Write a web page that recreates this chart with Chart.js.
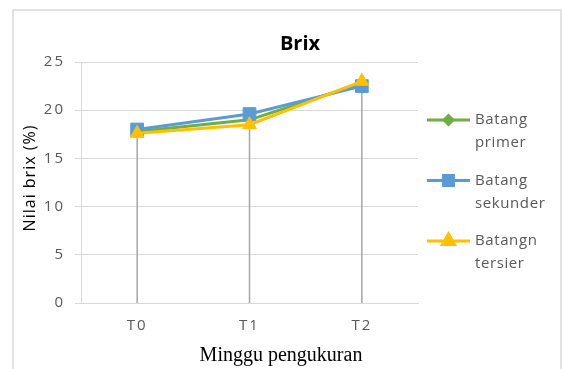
<!DOCTYPE html>
<html>
<head>
<meta charset="utf-8">
<title>Brix</title>
<script src="https://cdn.jsdelivr.net/npm/chart.js@4.4.0/dist/chart.umd.min.js"></script>
<style>
  html, body { margin: 0; padding: 0; background: #ffffff; }
  #wrap { width: 562px; height: 369px; }
</style>
</head>
<body>
<div id="wrap"><canvas id="brix" width="562" height="369"></canvas></div>
<script>
// Measurement weeks and Brix readings (%) per stem type
const categories = ['T0', 'T1', 'T2'];
const primer = [17.8, 19.0, 22.8];
const sekunder = [18.0, 19.6, 22.5];
const tersier = [17.6, 18.5, 23.0];
const seriesLabels = [['Batang', 'primer'], ['Batang', 'sekunder'], ['Batangn', 'tersier']];
const yTicks = [0, 5, 10, 15, 20, 25];

const GREEN = '#70AD47', BLUE = '#5B9BD5', GOLD = '#FFC000';
const GRID = '#d9d9d9', TEXT = '#595959';
const SANS = '"Open Sans", "Liberation Sans", sans-serif';

// Outer frame of the chart object; also sets the wide tick-label spacing
const framePlugin = {
  id: 'frame',
  beforeDraw(chart) {
    const ctx = chart.ctx;
    ctx.save();
    ctx.fillStyle = '#ffffff';
    ctx.fillRect(0, 0, chart.width, chart.height);
    ctx.strokeStyle = GRID;
    ctx.lineWidth = 1.5;
    ctx.strokeRect(13, 10, 548, 400);
    ctx.restore();
    ctx.letterSpacing = '2px';
  }
};

// Vertical drop lines from the highest point of each category to the axis
const dropLinePlugin = {
  id: 'dropLines',
  beforeDatasetsDraw(chart) {
    const ctx = chart.ctx;
    const xs = chart.scales.x, ys = chart.scales.y;
    ctx.save();
    ctx.strokeStyle = '#a6a6a6';
    ctx.lineWidth = 1.5;
    categories.forEach((c, i) => {
      const top = Math.max(...chart.data.datasets.map(d => d.data[i]));
      const x = xs.getPixelForValue(i);
      ctx.beginPath();
      ctx.moveTo(x, ys.getPixelForValue(top));
      ctx.lineTo(x, ys.getPixelForValue(0));
      ctx.stroke();
    });
    ctx.restore();
  }
};

// Chart title, axis titles and the side legend
const textPlugin = {
  id: 'texts',
  afterDraw(chart) {
    const ctx = chart.ctx;
    ctx.save();
    ctx.fillStyle = '#000000';
    ctx.textAlign = 'center';
    ctx.textBaseline = 'middle';
    ctx.letterSpacing = '0px';
    ctx.font = 'bold 20px ' + SANS;
    ctx.fillText('Brix', 300, 44);

    ctx.font = '20px "Liberation Serif", "Times New Roman", serif';
    ctx.fillText('Minggu pengukuran', 281, 356);

    ctx.save();
    ctx.translate(30, 178);
    ctx.rotate(-Math.PI / 2);
    ctx.letterSpacing = '1px';
    ctx.font = '16px ' + SANS;
    ctx.fillText('Nilai brix (%)', 0, 0);
    ctx.restore();

    // legend
    ctx.letterSpacing = '0.6px';
    chart.data.datasets.forEach((ds, i) => {
      const y = 120 + 60.5 * i;
      ctx.strokeStyle = ds.borderColor;
      ctx.lineWidth = 3;
      ctx.beginPath();
      ctx.moveTo(427, y);
      ctx.lineTo(470, y);
      ctx.stroke();
      ctx.fillStyle = ds.pointBackgroundColor;
      ctx.strokeStyle = ds.borderColor;
      Chart.helpers.drawPoint(ctx, {
        pointStyle: ds.pointStyle,
        rotation: 0,
        radius: ds.legendRadius,
        borderWidth: 1
      }, 448.5, y);
      ctx.fillStyle = TEXT;
      ctx.textAlign = 'left';
      ctx.font = '15px ' + SANS;
      seriesLabels[i].forEach((line, k) => {
        ctx.fillText(line, 475, y + k * 23);
      });
    });
    ctx.restore();
  }
};

const makeSet = (label, data, color, style, radius, legendRadius, order) => ({
  label: label.join(' '),
  data,
  borderColor: color,
  backgroundColor: color,
  pointBackgroundColor: color,
  pointBorderColor: color,
  pointStyle: style,
  pointRadius: radius,
  pointHoverRadius: radius,
  pointBorderWidth: 1,
  borderWidth: 3,
  tension: 0,
  legendRadius,
  order
});

new Chart(document.getElementById('brix'), {
  type: 'line',
  data: {
    labels: categories,
    datasets: [
      makeSet(seriesLabels[0], primer, GREEN, 'rectRot', 5, 4.5, 3),
      makeSet(seriesLabels[1], sekunder, BLUE, 'rect', 9, 7, 2),
      makeSet(seriesLabels[2], tersier, GOLD, 'triangle', 8, 7, 1)
    ]
  },
  options: {
    responsive: false,
    animation: false,
    layout: { padding: { left: 0, right: 144, top: 62, bottom: 0 } },
    plugins: {
      legend: { display: false },
      title: { display: false },
      tooltip: { enabled: false }
    },
    scales: {
      x: {
        offset: true,
        grid: { display: false, drawTicks: false },
        border: { display: true, color: GRID, width: 1 },
        ticks: {
          color: TEXT,
          font: { family: SANS, size: 15 },
          padding: 14
        },
        afterFit(scale) { scale.height = 66; }
      },
      y: {
        min: 0,
        max: 25,
        afterBuildTicks(scale) { scale.ticks = yTicks.map(v => ({ value: v })); },
        grid: { color: GRID, lineWidth: 1, tickLength: 6 },
        border: { display: true, color: GRID, width: 1 },
        ticks: {
          color: TEXT,
          font: { family: SANS, size: 15 },
          padding: 10
        },
        afterFit(scale) { scale.width = 81; }
      }
    }
  },
  plugins: [framePlugin, dropLinePlugin, textPlugin]
});
</script>
</body>
</html>
